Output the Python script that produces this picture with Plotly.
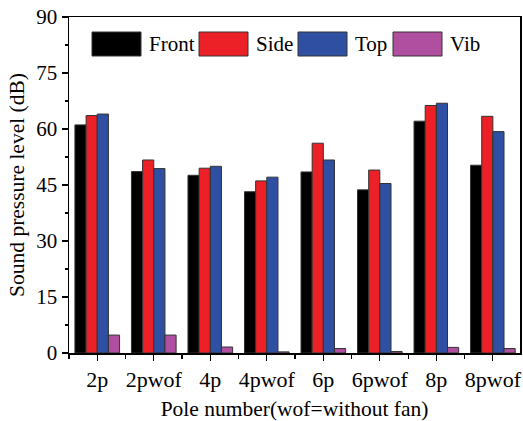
import plotly.graph_objects as go

categories = ["2p", "2pwof", "4p", "4pwof", "6p", "6pwof", "8p", "8pwof"]
front = [61.1, 48.6, 47.6, 43.2, 48.5, 43.7, 62.1, 50.3]
side = [63.6, 51.7, 49.5, 46.1, 56.2, 49.0, 66.3, 63.4]
top = [64.0, 49.4, 50.0, 47.1, 51.7, 45.4, 66.9, 59.3]
vib = [4.8, 4.8, 1.6, 0.3, 1.2, 0.4, 1.5, 1.2]
series_names = ["Front", "Side", "Top", "Vib"]
colors = ["#000000", "#EC2027", "#2F4FA2", "#B04F9F"]
y_ticks = [0, 15, 30, 45, 60, 75, 90]

FONT = "Liberation Serif"
x = list(range(len(categories)))

fig = go.Figure()
for name, vals, col in zip(series_names, [front, side, top, vib], colors):
    fig.add_trace(go.Bar(
        x=x, y=vals, name=name,
        marker=dict(color=col, line=dict(color="#333333", width=1)),
        showlegend=False,
    ))

# custom legend (large swatches like the reference)
leg_swatches = [(92, 141), (199, 248), (298, 347), (393, 442)]
W, H = 523, 421
ml, mr, mt, mb = 69, 3, 17, 68
pw, ph = W - ml - mr, H - mt - mb
def px_to_paper_x(p):
    return (p - ml) / pw
def py_to_paper_y(p):
    return 1 - (p - mt) / ph

for (x0, x1), name, col in zip(leg_swatches, series_names, colors):
    fig.add_shape(type="rect", xref="paper", yref="paper",
                  x0=px_to_paper_x(x0), x1=px_to_paper_x(x1),
                  y0=py_to_paper_y(56), y1=py_to_paper_y(32),
                  fillcolor=col, line=dict(color="#333333", width=1))
    fig.add_annotation(xref="paper", yref="paper",
                       x=px_to_paper_x(x1 + 6), y=py_to_paper_y(44),
                       xanchor="left", yanchor="middle", showarrow=False,
                       text=name, font=dict(family=FONT, size=21, color="black"))

fig.update_layout(
    width=W, height=H,
    margin=dict(l=ml, r=mr, t=mt, b=mb, autoexpand=False),
    paper_bgcolor="white", plot_bgcolor="white",
    barmode="group", bargap=0.21, bargroupgap=0,
    font=dict(family=FONT, size=21, color="black"),
)
fig.update_xaxes(
    range=[-0.5, 7.48],
    tickmode="array", tickvals=x, ticktext=categories,
    ticks="outside", ticklen=6, tickwidth=1.2, tickcolor="black",
    minor=dict(tickmode="array", tickvals=[i + 0.5 for i in range(-1, 8)],
               ticks="outside", ticklen=4, tickwidth=1.2, tickcolor="black"),
    showline=True, linecolor="black", linewidth=1.5, mirror=True,
    showgrid=False, zeroline=False, automargin=False,
    tickfont=dict(family=FONT, size=22),
    title=dict(text="Pole number(wof=without fan)", font=dict(family=FONT, size=21.5), standoff=14),
)
fig.update_yaxes(
    range=[0, 90],
    tickmode="array", tickvals=y_ticks,
    ticks="outside", ticklen=6, tickwidth=1.2, tickcolor="black",
    minor=dict(tickmode="array", tickvals=[7.5 + 15 * i for i in range(6)],
               ticks="outside", ticklen=3, tickwidth=1.2, tickcolor="black"),
    showline=True, linecolor="black", linewidth=1.5, mirror=True,
    showgrid=False, zeroline=False, automargin=False,
    tickfont=dict(family=FONT, size=21),
    title=dict(text="Sound pressure level (dB)", font=dict(family=FONT, size=21.5), standoff=6),
)

fig.write_html(
    "out.html",
    config={"displayModeBar": False, "staticPlot": True},
    post_script="document.body.style.margin='0px';document.body.style.overflow='hidden';",
)
